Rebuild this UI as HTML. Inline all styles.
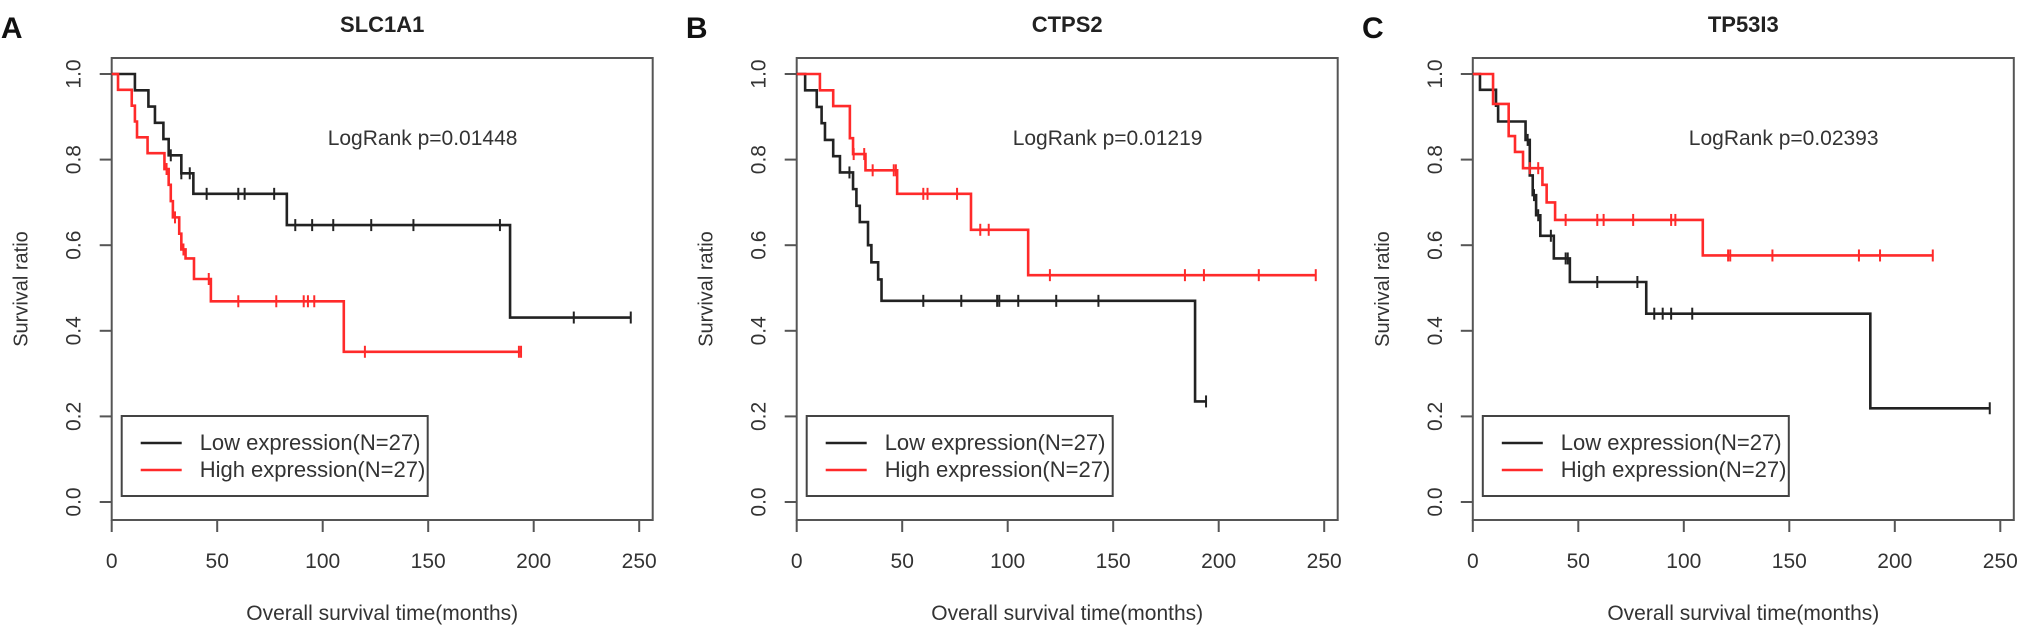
<!DOCTYPE html>
<html><head><meta charset="utf-8">
<style>
html,body{margin:0;padding:0;background:#fff;}
svg text{font-family:"Liberation Sans",sans-serif;fill:#333;}
</style></head>
<body>
<svg id="fig" width="2031" height="633" viewBox="0 0 2031 633" xmlns="http://www.w3.org/2000/svg"></svg>
<script>
// ---- data ----
const xTicks = [0, 50, 100, 150, 200, 250];
const yTicks = [0.0, 0.2, 0.4, 0.6, 0.8, 1.0];
const yTickLabels = ["0.0", "0.2", "0.4", "0.6", "0.8", "1.0"];
const panelLetters = ["A", "B", "C"];
const panelTitles = ["SLC1A1", "CTPS2", "TP53I3"];
const pValues = ["LogRank p=0.01448", "LogRank p=0.01219", "LogRank p=0.02393"];
const legendLabels = ["Low expression(N=27)", "High expression(N=27)"];

// Panel A
const aLowTimes = [11, 17.4, 20.5, 24.5, 27, 33, 38.7, 83, 188.8];
const aLowSurv = [0.962, 0.924, 0.886, 0.848, 0.81, 0.768, 0.72, 0.647, 0.431];
const aLowCens = [28, 33, 37, 45, 60, 63, 77, 87, 95, 105, 123, 143, 184, 219, 246];
const aHighTimes = [3, 9.5, 11, 12, 17, 25, 27, 28, 29, 32, 33, 35, 39, 47, 110];
const aHighSurv = [0.963, 0.926, 0.889, 0.852, 0.815, 0.778, 0.741, 0.703, 0.665, 0.627, 0.59, 0.569, 0.521, 0.469, 0.351];
const aHighCens = [26, 30, 34, 46, 60, 78, 91, 93, 96, 120, 193, 194];
// Panel B
const bLowTimes = [4, 9.5, 11.8, 13.4, 17.3, 20.5, 26.7, 28.3, 29.9, 33.8, 35.4, 38.6, 40.2, 188.8];
const bLowSurv = [0.962, 0.923, 0.885, 0.846, 0.808, 0.77, 0.731, 0.692, 0.654, 0.6, 0.56, 0.52, 0.47, 0.235];
const bLowCens = [25, 60, 78, 95, 96, 105, 123, 143, 194];
const bHighTimes = [11, 17.3, 25.2, 26.7, 32.6, 47.6, 82.6, 109.7];
const bHighSurv = [0.962, 0.925, 0.85, 0.813, 0.775, 0.72, 0.636, 0.53];
const bHighCens = [27, 32, 36, 46, 47, 60, 62, 76, 87, 91, 120, 184, 193, 219, 246];
// Panel C
const cLowTimes = [3.4, 11, 12, 25, 27, 28.4, 30, 32, 38.4, 46, 82.2, 188.4];
const cLowSurv = [0.963, 0.926, 0.889, 0.846, 0.763, 0.717, 0.67, 0.622, 0.569, 0.514, 0.44, 0.219];
const cLowCens = [26, 29, 31, 37, 44, 45, 59, 78, 86, 90, 94, 104, 245];
const cHighTimes = [9.6, 17, 20, 23.8, 33, 35, 39, 109];
const cHighSurv = [0.93, 0.855, 0.818, 0.78, 0.741, 0.70, 0.659, 0.576];
const cHighCens = [27, 31, 44, 59, 62, 76, 94, 96, 121, 122, 142, 183, 193, 218];

const panels = [
  {low:[aLowTimes,aLowSurv,aLowCens], high:[aHighTimes,aHighSurv,aHighCens]},
  {low:[bLowTimes,bLowSurv,bLowCens], high:[bHighTimes,bHighSurv,bHighCens]},
  {low:[cLowTimes,cLowSurv,cLowCens], high:[cHighTimes,cHighSurv,cHighCens]}
];

// ---- layout ----
const NS = "http://www.w3.org/2000/svg";
const svg = document.getElementById("fig");
const boxLefts = [111.7, 796.7, 1472.8];
const boxW = 541, boxTop = 58, boxBottom = 520;
const yTop = 74, yBot = 502;
const pxPerMonth = 2.11;
const BLACK = "#222", RED = "#ff2a2a";

function el(tag, attrs, parent){
  const e = document.createElementNS(NS, tag);
  for (const k in attrs) e.setAttribute(k, attrs[k]);
  (parent||svg).appendChild(e);
  return e;
}

panels.forEach((p, i) => {
  const L = boxLefts[i];
  const xs = t => L + t * pxPerMonth;
  const ys = v => yBot - v * (yBot - yTop);
  const g = el("g", {});
  
  

  const letter = el("text", {x: L - 100, y: 38, "font-size": 30, "font-weight": "bold", "text-anchor": "middle"}, g);
  letter.textContent = panelLetters[i];
  
  
  letter.style.fill = "#111";

  const title = el("text", {x: L + boxW/2, y: 32, "font-size": 22, "font-weight": "bold", "text-anchor": "middle"}, g);
  title.textContent = panelTitles[i];
  
  
  title.style.fill = "#222";

  const box = el("rect", {x: L, y: boxTop, width: boxW, height: boxBottom - boxTop, fill: "none", stroke: "#555", "stroke-width": 2}, g);
  
  

  xTicks.forEach(t => {
    const tk = el("line", {x1: xs(t), x2: xs(t), y1: boxBottom, y2: boxBottom + 12, stroke: "#555", "stroke-width": 2}, g);
    
    
    const lb = el("text", {x: xs(t), y: 568, "font-size": 21, "text-anchor": "middle"}, g);
    lb.textContent = String(t);
    
    
  });
  yTicks.forEach((v, k) => {
    const tk = el("line", {x1: L - 12, x2: L, y1: ys(v), y2: ys(v), stroke: "#555", "stroke-width": 2}, g);
    
    
    const lb = el("text", {x: L - 31, y: ys(v), "font-size": 21, "text-anchor": "middle", transform: `rotate(-90 ${L-31} ${ys(v)})`}, g);
    lb.textContent = yTickLabels[k];
    
    
  });

  const yl = el("text", {x: L - 84, y: 289, "font-size": 20, "text-anchor": "middle", transform: `rotate(-90 ${L-84} 289)`}, g);
  yl.textContent = "Survival ratio";
  
  

  const xl = el("text", {x: L + boxW/2, y: 620, "font-size": 21, "text-anchor": "middle"}, g);
  xl.textContent = "Overall survival time(months)";
  
  

  const pv = el("text", {x: L + 216, y: 145, "font-size": 21}, g);
  pv.textContent = pValues[i];
  
  

  [["low", BLACK], ["high", RED]].forEach(([key, col]) => {
    const [T, S, C] = p[key];
    let d = `M${xs(0)},${ys(1)}`;
    T.forEach((t, k) => { d += ` H${xs(t)} V${ys(S[k])}`; });
    const tEnd = Math.max(T[T.length-1], C.length ? Math.max(...C) : 0);
    d += ` H${xs(tEnd)}`;
    const path = el("path", {d, fill: "none", stroke: col, "stroke-width": 2.6}, g);
    
    
    C.forEach(c => {
      let v = 1;
      T.forEach((t, k) => { if (t <= c) v = S[k]; });
      const m = el("line", {x1: xs(c), x2: xs(c), y1: ys(v) - 6, y2: ys(v) + 6, stroke: col, "stroke-width": 2}, g);
      
      
    });
  });

  const lg = el("g", {}, g);
  
  
  const lb = el("rect", {x: L + 10, y: 416, width: 306, height: 80, fill: "#fff", stroke: "#444", "stroke-width": 2}, lg);
  
  
  [[BLACK, 443], [RED, 470]].forEach(([col, yy], k) => {
    const ln = el("line", {x1: L + 29, x2: L + 70, y1: yy, y2: yy, stroke: col, "stroke-width": 2.6}, lg);
    
    
    const tx = el("text", {x: L + 88, y: yy + 7, "font-size": 22}, lg);
    tx.textContent = legendLabels[k];
    
    
  });
});
</script>
</body></html>
